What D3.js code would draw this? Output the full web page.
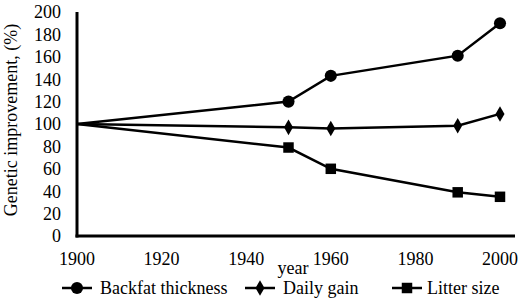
<!DOCTYPE html>
<html>
<head>
    <meta charset="utf-8" />
    <title></title>
    <style>
        body { margin: 0; background: #fff; }
    </style>
</head>
<body>
    <div id="chart"></div>
    <script src="https://cdn.jsdelivr.net/npm/d3@7"></script>
    <script>
        var years = [1900, 1950, 1960, 1990, 2000];
        var backfat = [100, 120, 143, 161, 190];
        var dailyGain = [100, 97, 96, 98.5, 109];
        var litterSize = [100, 79, 60, 39, 35];
        var seriesNames = ["Backfat thickness", "Daily gain", "Litter size"];
        var xTicks = [1900, 1920, 1940, 1960, 1980, 2000];
        var yTicks = [0, 20, 40, 60, 80, 100, 120, 140, 160, 180, 200];

        var width = 519, height = 299;
        var x = d3.scaleLinear().domain([1900, 2000]).range([77, 500]);
        var y = d3.scaleLinear().domain([0, 200]).range([236, 12]);

        var svg = d3.select("#chart").append("svg")
            .attr("width", width).attr("height", height)
            .attr("font-family", "'Liberation Serif', 'Times New Roman', 'DejaVu Serif', serif")
            .attr("font-size", 18);

        // y axis labels
        svg.append("g").selectAll("text").data(yTicks).join("text")
            .attr("x", 61).attr("y", d => y(d))
            .attr("dy", "0.35em").attr("text-anchor", "end")
            .text(d => d);

        svg.append("g").selectAll("text").data(xTicks).join("text")
            .attr("x", d => x(d)).attr("y", 265)
            .attr("text-anchor", "middle")
            .text(d => d);

        svg.append("text").attr("transform", "translate(17,120) rotate(-90)")
            .attr("text-anchor", "middle")
            .text("Genetic improvement, (%)");
        svg.append("text").attr("x", 293).attr("y", 274)
            .attr("text-anchor", "middle").text("year");

        // axes lines
        svg.append("line").attr("x1", x(1900)).attr("x2", x(1900))
            .attr("y1", y(200)).attr("y2", y(0) + 1.5)
            .attr("stroke", "#000").attr("stroke-width", 3);
        svg.append("line").attr("x1", x(1900) - 1.5).attr("x2", 515)
            .attr("y1", y(0)).attr("y2", y(0))
            .attr("stroke", "#000").attr("stroke-width", 3);

        var series = [backfat, dailyGain, litterSize];
        var symbols = [d3.symbolCircle, d3.symbolDiamond, d3.symbolSquare];
        var sizes = [115, 70, 110];

        var line = d3.line().x((d, i) => x(years[i])).y(d => y(d));

        series.forEach(function (vals, s) {
            svg.append("path").datum(vals)
                .attr("d", line).attr("fill", "none")
                .attr("stroke", "#000").attr("stroke-width", 2.5);
            svg.append("g").selectAll("path").data(vals.slice(1)).join("path")
                .attr("transform", (d, i) => "translate(" + x(years[i + 1]) + "," + y(d) + ")")
                .attr("d", d3.symbol().type(symbols[s]).size(sizes[s]))
                .attr("fill", "#000");
        });

        // legend
        var legendX = [62, 245, 392];
        var legend = svg.append("g").selectAll("g").data(seriesNames).join("g")
            .attr("transform", (d, i) => "translate(" + legendX[i] + ",288)");
        legend.append("line").attr("x1", 0).attr("x2", 30)
            .attr("stroke", "#000").attr("stroke-width", 2.5);
        legend.append("path")
            .attr("transform", "translate(15,0)")
            .attr("d", (d, i) => d3.symbol().type(symbols[i]).size(sizes[i])())
            .attr("fill", "#000");
        legend.append("text").attr("x", (d, i) => i == 2 ? 35 : 38).attr("dy", "0.35em")
            .text(d => d);
    </script>
</body>
</html>
